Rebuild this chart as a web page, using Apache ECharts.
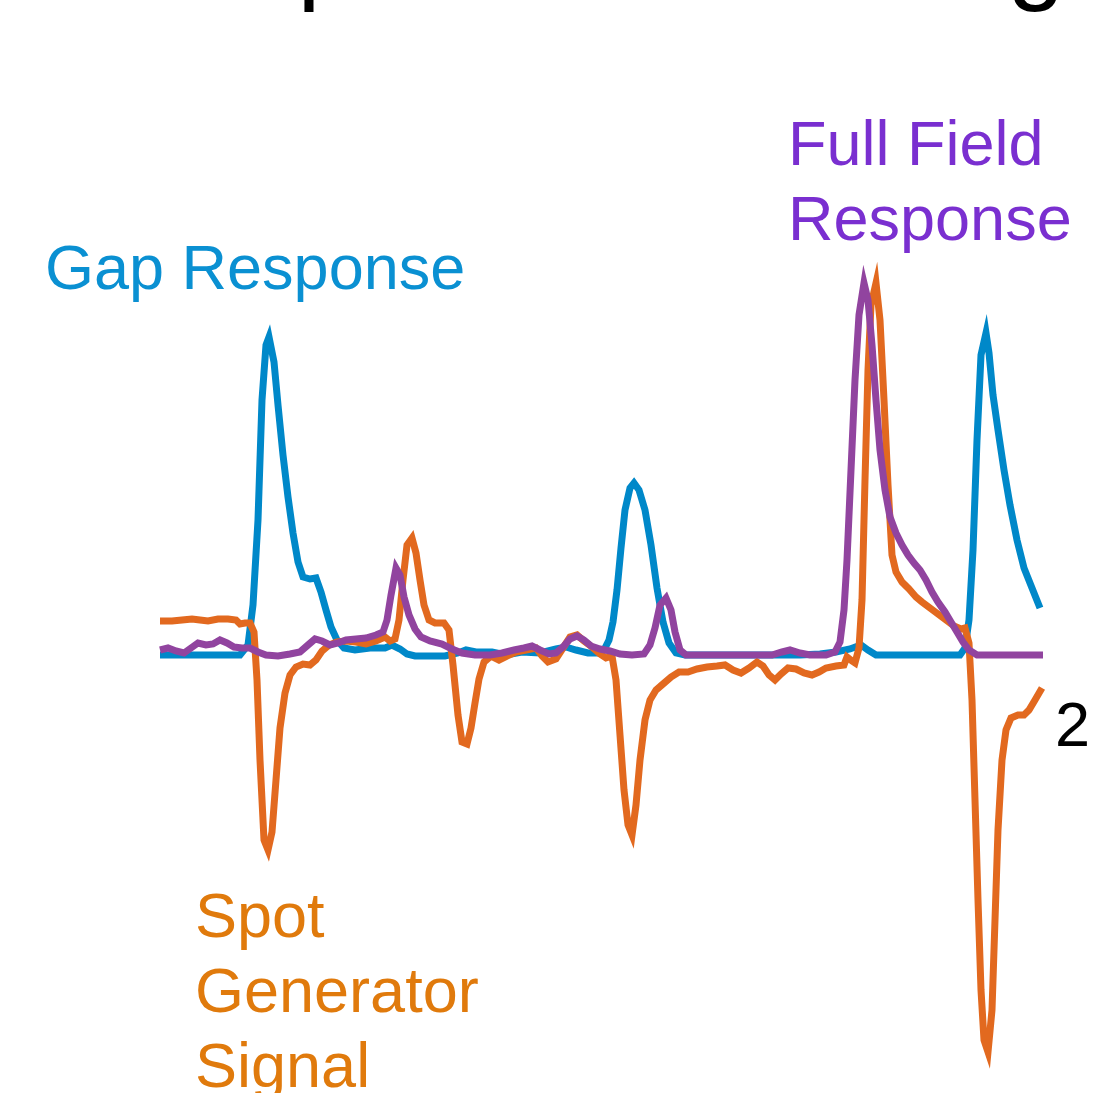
<!DOCTYPE html>
<html>
<head>
<meta charset="utf-8">
<style>
html,body{margin:0;padding:0;background:#fff;}
#chart{width:1110px;height:1093px;}
</style>
<script src="https://cdn.jsdelivr.net/npm/echarts@6/dist/echarts.min.js"></script>
</head>
<body>
<div id="chart"></div>
<script>
// time (ms) and response values
const gapResponse = [
[0,0],[80,0],[88,0.10],[93,0.50],[98,1.35],[102,2.55],[106,3.10],[109,3.18],[114,2.93],[118,2.50],[123,2.00],[128,1.58],[133,1.22],[138,0.93],[143,0.78],[150,0.76],[156,0.77],[161,0.63],[166,0.45],[171,0.28],[177,0.15],[184,0.07],[195,0.05],[210,0.07],[225,0.07],[232,0.10],[240,0.06],[247,0.01],[255,-0.01],[285,-0.01],[298,0.02],[306,0.05],[316,0.03],[332,0.03],[346,0],[362,0.03],[380,0.02],[396,0.06],[406,0.08],[416,0.05],[428,0.02],[438,0.02],[444,0.05],[449,0.15],[453,0.33],[457,0.65],[461,1.07],[465,1.45],[470,1.67],[474,1.72],[479,1.65],[485,1.45],[491,1.10],[497,0.67],[503,0.33],[509,0.12],[516,0.02],[525,0],[640,0],[660,0.01],[676,0.03],[690,0.06],[701,0.10],[708,0.05],[716,0],[800,0],[805,0.07],[809,0.35],[813,1.05],[817,2.15],[821,3.00],[826,3.22],[829,3.02],[833,2.60],[838,2.25],[844,1.85],[850,1.50],[857,1.15],[864,0.87],[872,0.67],[880,0.47]
];
const spotSignal = [
[0,0.34],[12,0.34],[22,0.35],[32,0.36],[40,0.35],[48,0.34],[58,0.36],[68,0.36],[76,0.35],[80,0.31],[85,0.32],[90,0.32],[94,0.23],[97,-0.25],[100,-1.05],[104,-1.85],[108,-1.95],[112,-1.77],[116,-1.25],[120,-0.73],[125,-0.38],[130,-0.20],[136,-0.12],[143,-0.09],[150,-0.10],[156,-0.05],[162,0.04],[169,0.10],[177,0.13],[186,0.14],[196,0.13],[206,0.11],[216,0.14],[225,0.18],[230,0.14],[235,0.16],[239,0.35],[243,0.75],[247,1.10],[252,1.17],[256,1.02],[260,0.75],[264,0.50],[269,0.35],[275,0.32],[284,0.32],[289,0.25],[293,-0.10],[298,-0.60],[302,-0.87],[307,-0.89],[311,-0.73],[315,-0.48],[319,-0.24],[324,-0.07],[331,-0.01],[339,-0.05],[347,-0.01],[356,0.03],[366,0.05],[376,0.07],[382,-0.01],[388,-0.07],[396,-0.04],[403,0.07],[410,0.18],[417,0.20],[424,0.14],[432,0.08],[440,0.01],[446,-0.03],[452,-0.01],[456,-0.25],[460,-0.80],[464,-1.35],[468,-1.70],[472,-1.80],[476,-1.50],[480,-1.05],[485,-0.65],[490,-0.45],[496,-0.35],[503,-0.29],[511,-0.22],[519,-0.17],[528,-0.17],[537,-0.14],[547,-0.12],[557,-0.11],[565,-0.10],[573,-0.15],[581,-0.18],[589,-0.13],[597,-0.07],[603,-0.11],[609,-0.20],[615,-0.25],[621,-0.19],[628,-0.13],[636,-0.14],[644,-0.18],[652,-0.20],[659,-0.17],[666,-0.13],[676,-0.11],[684,-0.10],[687,-0.02],[692,-0.06],[695,-0.08],[699,0.07],[702,0.55],[705,1.75],[708,2.85],[711,3.50],[716,3.72],[720,3.35],[724,2.55],[728,1.70],[732,1.00],[736,0.83],[742,0.73],[749,0.66],[756,0.58],[762,0.53],[770,0.47],[778,0.41],[786,0.35],[794,0.29],[801,0.26],[805,0.27],[809,0.12],[812,-0.45],[815,-1.45],[818,-2.45],[821,-3.35],[824,-3.85],[828,-3.97],[832,-3.55],[835,-2.65],[838,-1.75],[842,-1.05],[846,-0.75],[851,-0.63],[858,-0.60],[864,-0.60],[869,-0.55],[875,-0.45],[882,-0.33]
];
const fullFieldResponse = [
[0,0.05],[8,0.07],[16,0.04],[24,0.02],[31,0.07],[38,0.12],[46,0.10],[53,0.11],[60,0.15],[67,0.12],[74,0.08],[82,0.07],[90,0.07],[98,0.03],[106,0],[118,-0.01],[130,0.01],[140,0.03],[148,0.10],[155,0.16],[162,0.14],[170,0.10],[178,0.12],[186,0.15],[196,0.16],[206,0.17],[216,0.20],[223,0.23],[227,0.35],[231,0.60],[236,0.87],[240,0.80],[244,0.58],[249,0.40],[255,0.26],[261,0.18],[270,0.14],[282,0.11],[292,0.06],[302,0.02],[315,0],[330,0],[342,0.02],[354,0.05],[364,0.07],[372,0.09],[380,0.05],[389,0.01],[396,0.02],[403,0.08],[410,0.16],[417,0.19],[424,0.15],[431,0.09],[440,0.06],[450,0.04],[460,0.01],[472,0],[484,0.01],[490,0.10],[495,0.27],[500,0.50],[506,0.57],[511,0.45],[515,0.23],[520,0.05],[526,0],[612,0],[622,0.03],[630,0.05],[640,0.02],[650,0],[666,0],[675,0.03],[680,0.13],[684,0.45],[687,0.95],[691,1.85],[695,2.75],[699,3.40],[704,3.72],[708,3.55],[712,3.10],[716,2.55],[720,2.05],[725,1.65],[730,1.38],[736,1.22],[742,1.10],[748,1.00],[754,0.92],[760,0.85],[766,0.75],[772,0.63],[778,0.53],[785,0.43],[791,0.33],[797,0.23],[803,0.13],[809,0.05],[817,0],[883,0]
];
const seriesNames = ['Gap Response', 'Spot Generator Signal', 'Full Field Response'];
const titleText = 'Temporal Processing';
const scaleLabel = '2';

const chart = echarts.init(document.getElementById('chart'));
const FONT = '"Liberation Sans", Arial, Helvetica, sans-serif';
const lineW = 7;
function mkSeries(name, data, color) {
  return {
    name: name, type: 'line', data: data, showSymbol: false, symbol: 'none',
    animation: false, smooth: false,
    lineStyle: { color: color, width: lineW, join: 'miter', miterLimit: 20, cap: 'butt' }
  };
}
chart.setOption({
  backgroundColor: '#ffffff',
  animation: false,
  grid: { left: 160, right: 67, top: 0, bottom: 0, containLabel: false },
  xAxis: { type: 'value', min: 0, max: 883, show: false },
  yAxis: { type: 'value', min: -4.38, max: 6.55, show: false },
  series: [
    mkSeries(seriesNames[0], gapResponse, '#0088c9'),
    mkSeries(seriesNames[1], spotSignal, '#e2691f'),
    mkSeries(seriesNames[2], fullFieldResponse, '#91449f')
  ],
  graphic: [
    { type: 'text', left: 103, top: -90, silent: true,
      style: { text: titleText, font: '103px ' + FONT, fill: '#000' } },
    { type: 'text', left: 45, top: 240, silent: true,
      style: { text: seriesNames[0], font: '63px ' + FONT, fill: '#0a90d2' } },
    { type: 'text', left: 788, top: 110, silent: true,
      style: { text: 'Full Field\nResponse', font: '63px ' + FONT, fill: '#7a2fd0', lineHeight: 75 } },
    { type: 'text', left: 195, top: 882, silent: true,
      style: { text: 'Spot\nGenerator\nSignal', font: '63px ' + FONT, fill: '#e07a0c', lineHeight: 75 } },
    { type: 'text', left: 1055, top: 697, silent: true,
      style: { text: scaleLabel, font: '63px ' + FONT, fill: '#000' } }
  ]
});
</script>
</body>
</html>
